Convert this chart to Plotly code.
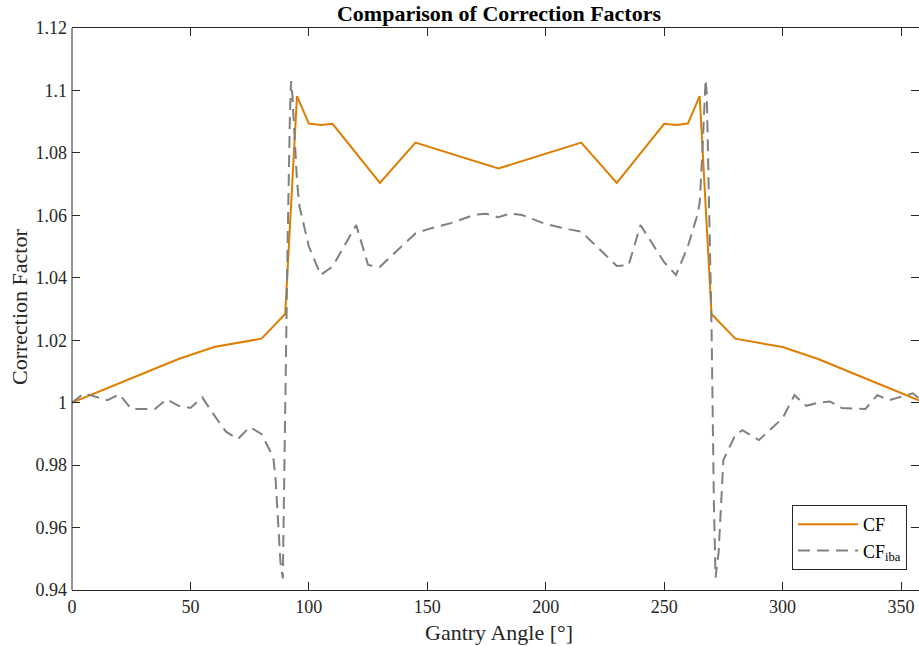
import plotly.graph_objects as go

# Correction factor (solid)
cf_angle = [0, 45, 60, 80, 90, 95, 100, 105, 110, 130, 145, 180, 215, 230,
            250, 255, 260, 265, 270, 280, 300, 315, 360]
cf_value = [1.000, 1.014, 1.0178, 1.0205, 1.0284, 1.0982, 1.0894, 1.0889,
            1.0893, 1.0704, 1.0833, 1.0750, 1.0833, 1.0704, 1.0893, 1.0889,
            1.0894, 1.0982, 1.0284, 1.0205, 1.0178, 1.014, 1.000]

# IBA correction factor (dashed)
iba_angle = [0, 5, 15, 20, 25, 35, 40, 45, 50, 55, 60, 65, 70, 75, 80, 85, 86,
             87, 88, 89, 90, 91, 92, 92.5, 93, 94, 95, 96, 100, 105, 110, 120,
             125, 130, 145, 150, 160, 170, 175, 180, 185, 190, 200, 210, 215,
             230, 235, 240, 250, 255, 260, 264, 265, 266, 267, 267.5, 268, 269,
             270, 271, 271.7, 273, 274, 275, 280, 283, 290, 300, 305, 310, 315,
             320, 325, 335, 340, 345, 355, 360]
iba_value = [1.000, 1.003, 1.0008, 1.0027, 0.998, 0.998, 1.0011, 0.9990,
             0.9983, 1.0017, 0.9960, 0.9907, 0.9883, 0.9922, 0.9900, 0.9825,
             0.9750, 0.9620, 0.9490, 0.9437, 1.0000, 1.0500, 1.0920, 1.1030,
             1.0990, 1.0830, 1.0710, 1.0630, 1.0500, 1.0409, 1.0436, 1.0569,
             1.0441, 1.0435, 1.0542, 1.0555, 1.0575, 1.0602, 1.0605, 1.0594,
             1.0606, 1.0601, 1.0572, 1.0555, 1.0548, 1.0438, 1.0440, 1.0569,
             1.0450, 1.0409, 1.0500, 1.0600, 1.0640, 1.0780, 1.0970, 1.1035,
             1.0990, 1.0650, 1.0250, 0.9680, 0.9440, 0.9520, 0.9680, 0.9816,
             0.9896, 0.9912, 0.9880, 0.9950, 1.0024, 0.9990, 1.0000, 1.0004,
             0.9983, 0.9980, 1.0024, 1.0008, 1.0030, 1.000]

x_ticks = [0, 50, 100, 150, 200, 250, 300, 350]
y_ticks = [0.94, 0.96, 0.98, 1.00, 1.02, 1.04, 1.06, 1.08, 1.10, 1.12]
y_tick_text = ["0.94", "0.96", "0.98", "1", "1.02", "1.04", "1.06", "1.08", "1.1", "1.12"]

FONT = "Liberation Serif"
AXIS = "#262626"

fig = go.Figure()
fig.add_trace(go.Scatter(
    x=cf_angle, y=cf_value, mode="lines", name="CF",
    line=dict(color="#DE7E00", width=2),
))
fig.add_trace(go.Scatter(
    x=iba_angle, y=iba_value, mode="lines", name="CF<sub>iba</sub>",
    line=dict(color="#808080", width=2, dash="12px,7px"),
))

fig.update_layout(
    width=919, height=646,
    margin=dict(l=72, r=0, t=28, b=56),
    paper_bgcolor="white", plot_bgcolor="white",
    font=dict(family=FONT, size=18, color=AXIS),
    title=dict(text="<b>Comparison of Correction Factors</b>",
               font=dict(family=FONT, size=22, color="black"),
               x=499 / 919, xanchor="center", xref="container",
               y=1 - 13 / 646, yanchor="middle", yref="container"),
    xaxis=dict(range=[0, 357.6], tickvals=x_ticks, ticks="inside", ticklen=8,
               tickwidth=1, tickcolor=AXIS, showline=True, linecolor=AXIS,
               linewidth=1, mirror="ticks", showgrid=False, zeroline=False,
               tickfont=dict(size=18, color=AXIS)),
    yaxis=dict(range=[0.94, 1.12], tickvals=y_ticks, ticktext=y_tick_text,
               ticks="inside", ticklen=8, tickwidth=1, tickcolor=AXIS,
               showline=False, mirror="ticks", showgrid=False, zeroline=False,
               tickfont=dict(size=18, color=AXIS), ticklabelstandoff=4),
    legend=dict(x=(907 - 72) / 847, y=(590 - 570) / 562,
                xanchor="right", yanchor="bottom",
                bgcolor="white", bordercolor=AXIS, borderwidth=1,
                font=dict(family=FONT, size=18, color="black"),
                itemwidth=60, tracegroupgap=0),
    showlegend=True,
)

# left axis line
fig.add_shape(type="line", xref="x domain", yref="y domain",
              x0=0, x1=0, y0=0, y1=1, line=dict(color=AXIS, width=1))

fig.add_annotation(text="Gantry Angle [°]", xref="paper", yref="paper",
                   x=(499 - 72) / 847, y=-(632 - 590) / 562,
                   xanchor="center", yanchor="middle", showarrow=False,
                   font=dict(family=FONT, size=22, color=AXIS))
fig.add_annotation(text="Correction Factor", xref="paper", yref="paper",
                   x=-(72 - 19) / 847, y=(590 - 307) / 562, textangle=-90,
                   xanchor="center", yanchor="middle", showarrow=False,
                   font=dict(family=FONT, size=22, color=AXIS))

fig.write_html("out.html")
